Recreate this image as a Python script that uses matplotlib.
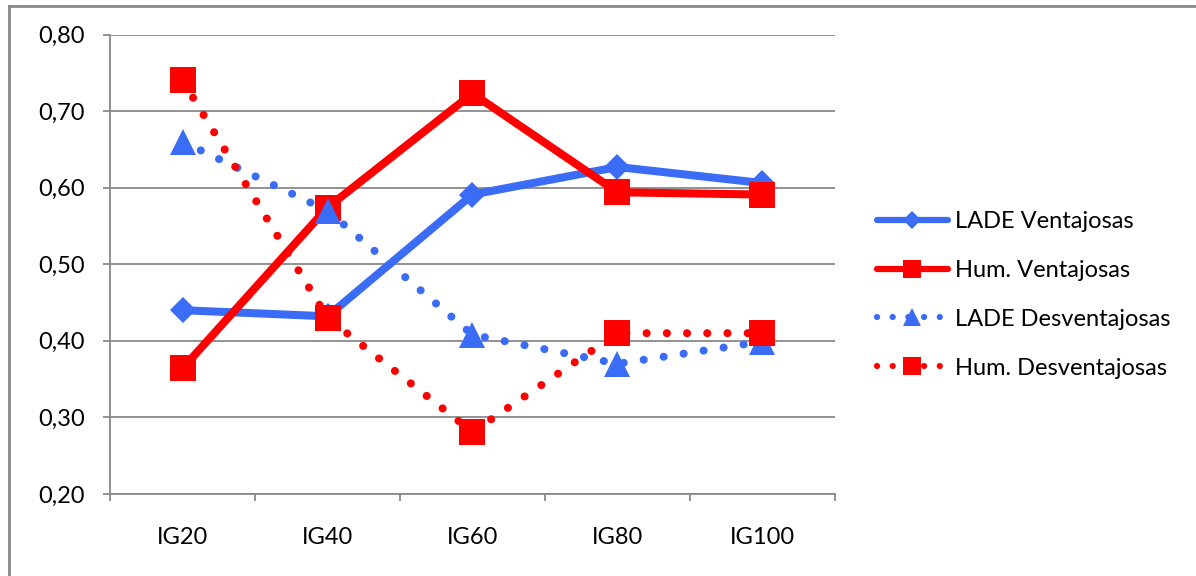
import matplotlib
matplotlib.use('Agg')
import matplotlib.pyplot as plt
from matplotlib.ticker import FixedLocator, FuncFormatter
from matplotlib.lines import Line2D

plt.rcParams['font.family'] = ['Lato', 'DejaVu Sans']

# Datos por grupo
categorias = ['IG20', 'IG40', 'IG60', 'IG80', 'IG100']
lade_ventajosas = [0.44, 0.432, 0.591, 0.627, 0.606]
hum_ventajosas = [0.364, 0.574, 0.723, 0.594, 0.591]
lade_desventajosas = [0.660, 0.570, 0.408, 0.370, 0.399]
hum_desventajosas = [0.740, 0.430, 0.281, 0.410, 0.410]

AZUL = '#3a6cf6'
ROJO = '#ff0000'
GRIS = '#898989'
FS = 17

fig = plt.figure(figsize=(11.96, 5.76), dpi=100)
ax = fig.add_axes([110 / 1196, 1 - 494 / 576, 725 / 1196, 459.5 / 576])

x = list(range(len(categorias)))
puntos = (0, (0.01, 2.5))

series = [
    (lade_ventajosas, 'LADE Ventajosas', AZUL, '-', 'D', 13.5),
    (hum_ventajosas, 'Hum. Ventajosas', ROJO, '-', 's', 19),
    (lade_desventajosas, 'LADE Desventajosas', AZUL, puntos, '^', 19),
    (hum_desventajosas, 'Hum. Desventajosas', ROJO, puntos, 's', 19),
]

handles = []
for datos, nombre, color, estilo, marca, tam in series:
    ax.plot(x, datos, color=color, linestyle=estilo, linewidth=5.8,
            dash_capstyle='round', solid_capstyle='round',
            marker=marca, markersize=tam, markeredgewidth=0, label=nombre)
    # version reducida para la leyenda
    handles.append(Line2D([], [], color=color, linestyle=estilo, linewidth=4.5,
                          dash_capstyle='round', solid_capstyle='round',
                          marker=marca, markersize=tam * 0.65, markeredgewidth=0,
                          label=nombre))

ax.set_xlim(-0.5, 4.5)
ax.set_ylim(0.20, 0.80)
ax.set_yticks([0.2, 0.3, 0.4, 0.5, 0.6, 0.7, 0.8])
ax.yaxis.set_major_formatter(FuncFormatter(lambda v, p: f'{v:.2f}'.replace('.', ',')))
ax.set_xticks(x)
ax.set_xticklabels(categorias)
ax.xaxis.set_minor_locator(FixedLocator([i - 0.5 for i in range(6)]))

ax.grid(axis='y', color=GRIS, linewidth=1.3)
ax.set_axisbelow(True)
for lado in ['top', 'right']:
    ax.spines[lado].set_visible(False)
for lado in ['left', 'bottom']:
    ax.spines[lado].set_color(GRIS)
    ax.spines[lado].set_linewidth(1.3)

ax.tick_params(axis='y', direction='out', length=5, width=1.3, color=GRIS,
               labelsize=FS, pad=13)
ax.tick_params(axis='x', which='major', length=0, labelsize=FS, pad=24)
ax.tick_params(axis='x', which='minor', direction='out', length=5, width=1.3,
               color=GRIS)

fig.legend(handles=handles, loc='upper left', bbox_to_anchor=(877 / 1196, 1 - 211 / 576),
           frameon=False, fontsize=FS, borderpad=0, borderaxespad=0,
           handlelength=3.0, handletextpad=0.3, labelspacing=1.18)

# marco exterior del grafico
fig.add_artist(Line2D([8.5 / 1196, 8.5 / 1196], [0, 1 - 5.5 / 576], color=GRIS,
                      linewidth=2, transform=fig.transFigure))
fig.add_artist(Line2D([8.5 / 1196, 1], [1 - 5.5 / 576, 1 - 5.5 / 576], color=GRIS,
                      linewidth=2, transform=fig.transFigure))

fig.savefig('out.png', dpi=100)
